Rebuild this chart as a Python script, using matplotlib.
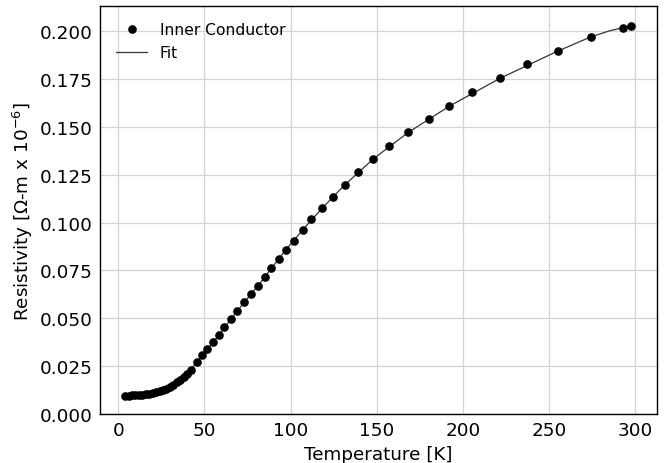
import matplotlib
matplotlib.use("Agg")
import matplotlib.pyplot as plt

# Measured data: Temperature [K] and resistivity [Ohm-m x 1e-6]
temperature = [4, 6, 8, 10, 12, 14, 16, 18, 20, 22, 24, 26, 28, 30, 32, 34, 36, 38, 40, 42,
               45.6, 48.7, 51.8, 55.1, 58.3, 61.6, 65.5, 69.2, 73.1, 77.1, 81.1, 85.2, 88.8,
               93.1, 97.1, 101.8, 107.0, 112.0, 118.2, 124.4, 131.3, 139.2, 148.0, 157.2,
               168.2, 180.0, 192.0, 205.5, 221.7, 237.2, 254.9, 274.0, 292.8, 297.4]
resistivity = [0.0096, 0.0096, 0.0097, 0.0098, 0.0099, 0.0101, 0.0103, 0.0106, 0.0110, 0.0114,
               0.0119, 0.0125, 0.0133, 0.0142, 0.0152, 0.0165, 0.0178, 0.0193, 0.0210, 0.0232,
               0.0270, 0.0306, 0.0340, 0.0374, 0.0411, 0.0453, 0.0497, 0.0539, 0.0583, 0.0626,
               0.0670, 0.0715, 0.0762, 0.0808, 0.0858, 0.0905, 0.0962, 0.1018, 0.1074, 0.1133,
               0.1196, 0.1262, 0.1333, 0.1401, 0.1471, 0.1540, 0.1608, 0.1680, 0.1755, 0.1828,
               0.1896, 0.1970, 0.2019, 0.2028]

# Fit curve values (evaluated at read-off temperatures)
fit_temperature = [4, 10, 16, 20, 24, 28, 32, 36, 40, 45.6, 51.8, 58.3, 65.5, 73.1, 81.1,
                   88.8, 97.1, 107.0, 118.2, 131.3, 148.0, 168.2, 192.0, 221.7, 254.9, 274.0,
                   285.0, 292.8, 297.4]
fit_resistivity = [0.0096, 0.0098, 0.0103, 0.0110, 0.0119, 0.0133, 0.0152, 0.0178, 0.0210,
                   0.0270, 0.0340, 0.0411, 0.0497, 0.0583, 0.0670, 0.0760, 0.0856, 0.0962,
                   0.1074, 0.1196, 0.1333, 0.1471, 0.1608, 0.1755, 0.1896, 0.1970, 0.2002,
                   0.2019, 0.2028]

fig = plt.figure(figsize=(6.67, 4.64), dpi=100)
ax = fig.add_axes([0.15, 0.1056, 0.835, 0.879])

ax.plot(temperature, resistivity, 'o', color='black', markersize=5.2, label='Inner Conductor', zorder=3)
ax.plot(fit_temperature, fit_resistivity, '-', color='#333333', linewidth=0.9, label='Fit', zorder=2)

ax.set_ylim(0, 0.2131)
ax.set_xlim(-10.5, 312.5)
ax.set_xticks([0, 50, 100, 150, 200, 250, 300])
ax.set_yticks([0.0, 0.025, 0.05, 0.075, 0.1, 0.125, 0.15, 0.175, 0.2])
ax.set_yticklabels([f"{v:.3f}" for v in [0.0, 0.025, 0.05, 0.075, 0.1, 0.125, 0.15, 0.175, 0.2]])

ax.grid(True, color='#d4d4d4', linewidth=0.9)
ax.set_axisbelow(True)
ax.tick_params(axis='both', length=0, labelsize=13.2, pad=5)
for s in ax.spines.values():
    s.set_color('black')
    s.set_linewidth(1.0)

ax.set_xlabel('Temperature [K]', fontsize=13.2)
ax.set_ylabel(r'Resistivity [$\Omega$-m x 10$^{-6}$]', fontsize=13.2)

ax.legend(loc='upper left', frameon=False, fontsize=11.2, borderaxespad=0.65, handlelength=2.0)

fig.savefig('out.png', dpi=100)
